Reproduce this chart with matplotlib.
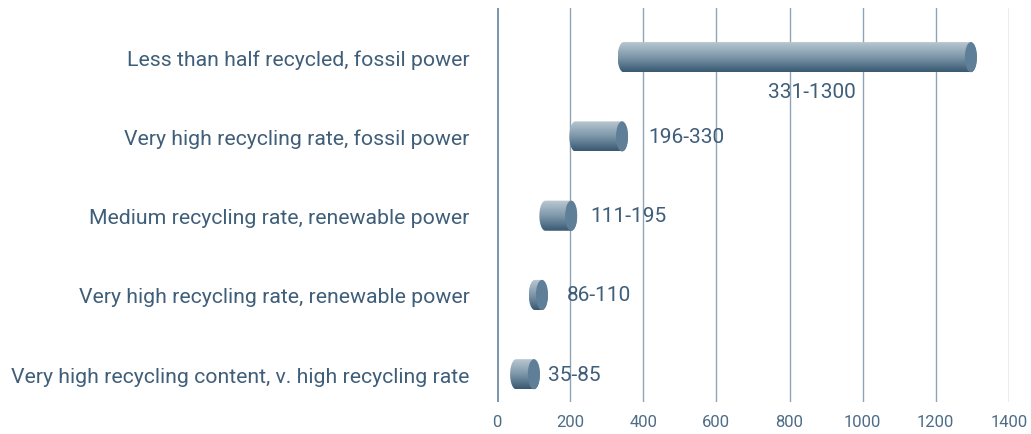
import numpy as np
import matplotlib
matplotlib.use("Agg")
import matplotlib.pyplot as plt
from matplotlib.path import Path
from matplotlib.patches import PathPatch, Ellipse
from matplotlib.colors import LinearSegmentedColormap

plt.rcParams['font.family'] = ['Roboto', 'DejaVu Sans']

categories = ["Less than half recycled, fossil power",
              "Very high recycling rate, fossil power",
              "Medium recycling rate, renewable power",
              "Very high recycling rate, renewable power",
              "Very high recycling content, v. high recycling rate"]
range_labels = ["331-1300", "196-330", "111-195", "86-110", "35-85"]
# drawn extents (left end, centre of the end cap)
bar_start = [330, 198, 116, 87, 36]
bar_end = [1296, 342, 203, 123, 101]
xticks = [0, 200, 400, 600, 800, 1000, 1200, 1400]

text_col = "#3f5e79"
grid_col = "#8fa5b7"
cap_col = "#5f7e97"
cmap = LinearSegmentedColormap.from_list("cyl", ["#bccad3", "#7f98ab", "#385972"])

fig = plt.figure(figsize=(10.31, 4.35), dpi=100)
ax = fig.add_axes([0.482, 0.0736, 0.4966, 0.9057])

a = 16.5      # half width of the end cap, data units
h = 0.38      # bar height
grad = np.linspace(0, 1, 100).reshape(-1, 1)
t = np.linspace(0, np.pi, 40)

for i in range(len(categories)):
    x0, x1 = bar_start[i], bar_end[i]
    cl = x0 + a
    # left half ellipse (top -> bottom), then right half ellipse (bottom -> top)
    lx = cl - a * np.sin(t)
    ly = i - h / 2 * np.cos(t)
    rx = x1 + a * np.sin(t)
    ry = i + h / 2 * np.cos(t)
    verts = np.vstack([np.column_stack([lx, ly]), np.column_stack([rx, ry]), [[lx[0], ly[0]]]])
    codes = [Path.MOVETO] + [Path.LINETO] * (len(verts) - 2) + [Path.CLOSEPOLY]
    patch = PathPatch(Path(verts, codes), facecolor="none", edgecolor="none")
    ax.add_patch(patch)
    im = ax.imshow(grad, cmap=cmap, aspect="auto", origin="upper",
                   extent=(x0, x1 + a, i + h / 2, i - h / 2), zorder=3)
    im.set_clip_path(patch)
    ax.add_patch(Ellipse((x1, i), 2 * a, h, facecolor=cap_col, edgecolor="none", zorder=4))

# value labels
ax.annotate(range_labels[0], xy=((bar_start[0] + bar_end[0] + a) / 2, 0), xytext=(15, -34),
            textcoords="offset pixels", ha="center", va="center", fontsize=15, color=text_col)
label_pad = [0, 20, 13, 19, 8]
for i in range(1, len(categories)):
    ax.annotate(range_labels[i], xy=(bar_end[i] + a, i), xytext=(label_pad[i], 0),
                textcoords="offset pixels", ha="left", va="center", fontsize=15, color=text_col)

for x in xticks[1:]:
    ax.axvline(x, color=grid_col, lw=1, zorder=1)
ax.axvline(0, color="#7f97ab", lw=2.2, zorder=1)

ax.set_xlim(0, 1400)
ax.set_ylim(4.35, -0.62)
ax.set_xticks(xticks)
ax.set_xticklabels([str(v) for v in xticks])
ax.set_yticks(range(len(categories)))
ax.set_yticklabels(categories)
ax.tick_params(axis="x", length=0, pad=9, labelsize=12, labelcolor="#4d6c86")
ax.tick_params(axis="y", length=0, pad=19.5, labelsize=15.3, labelcolor=text_col)
for s in ax.spines.values():
    s.set_visible(False)

fig.savefig("out.png", dpi=100)
